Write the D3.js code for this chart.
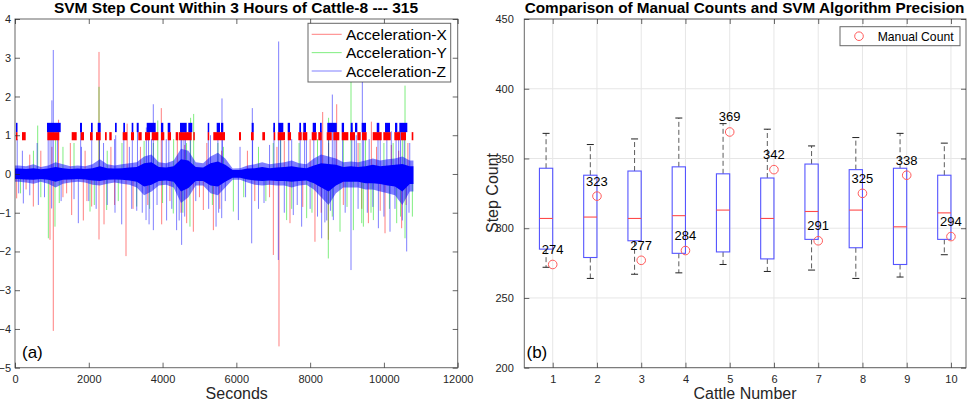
<!DOCTYPE html>
<html><head><meta charset="utf-8">
<script src="https://cdn.jsdelivr.net/npm/d3@7"></script>
<style>body{margin:0;background:#fff}svg{display:block}text{font-family:"Liberation Sans",Arial,Helvetica,sans-serif}</style>
</head><body><svg id="c" width="969" height="402"></svg>
<script>
// ---------- Panel (a) data ----------
const xTicksA = [0, 2000, 4000, 6000, 8000, 10000, 12000];
const yTicksA = [-5, -4, -3, -2, -1, 0, 1, 2, 3, 4];
const seriesNames = ["Acceleration-X", "Acceleration-Y", "Acceleration-Z"];
// dense core of the signal, per 200 s bin (start second): fringe and solid parts
const coreT = [0,200,400,600,800,1000,1200,1400,1600,1800,2000,2200,2400,2600,2800,3000,3200,3400,3600,3800,4000,4200,4400,4600,4800,5000,5200,5400,5600,5800,6000,6200,6400,6600,6800,7000,7200,7400,7600,7800,8000,8200,8400,8600,8800,9000,9200,9400,9600,9800,10000,10200,10400,10600];
const fringeUp = [0.22,0.2,0.25,0.18,0.22,0.3,0.25,0.2,0.22,0.2,0.25,0.38,0.25,0.22,0.25,0.28,0.3,0.45,0.5,0.3,0.28,0.35,0.65,0.6,0.3,0.28,0.45,0.55,0.4,0.14,0.15,0.22,0.25,0.3,0.25,0.28,0.3,0.35,0.28,0.25,0.4,0.5,0.45,0.4,0.3,0.32,0.3,0.35,0.4,0.35,0.38,0.4,0.45,0.35];
const fringeDown = [-0.2,-0.22,-0.25,-0.2,-0.25,-0.35,-0.25,-0.22,-0.2,-0.22,-0.28,-0.3,-0.25,-0.22,-0.25,-0.28,-0.35,-0.55,-0.45,-0.3,-0.28,-0.35,-0.75,-0.6,-0.3,-0.3,-0.5,-0.55,-0.35,-0.15,-0.15,-0.22,-0.28,-0.3,-0.28,-0.3,-0.3,-0.35,-0.3,-0.28,-0.4,-0.6,-0.8,-0.5,-0.35,-0.35,-0.35,-0.4,-0.4,-0.45,-0.5,-0.55,-0.8,-0.45];
const solidUp = [0.14,0.13,0.15,0.12,0.14,0.18,0.15,0.13,0.14,0.13,0.15,0.2,0.15,0.14,0.15,0.17,0.18,0.28,0.3,0.18,0.17,0.2,0.38,0.35,0.18,0.17,0.28,0.32,0.24,0.1,0.1,0.14,0.15,0.18,0.15,0.17,0.18,0.2,0.17,0.15,0.22,0.28,0.26,0.24,0.18,0.2,0.18,0.2,0.24,0.2,0.22,0.24,0.26,0.2];
const solidDown = [-0.13,-0.14,-0.15,-0.13,-0.15,-0.2,-0.15,-0.14,-0.13,-0.14,-0.17,-0.18,-0.15,-0.14,-0.15,-0.17,-0.2,-0.32,-0.28,-0.18,-0.17,-0.2,-0.45,-0.36,-0.18,-0.18,-0.3,-0.32,-0.2,-0.1,-0.1,-0.14,-0.17,-0.18,-0.17,-0.18,-0.18,-0.2,-0.18,-0.17,-0.24,-0.35,-0.45,-0.3,-0.2,-0.2,-0.2,-0.24,-0.24,-0.26,-0.3,-0.32,-0.45,-0.26];
// spikes [second, value]
const spikesX = [[2277,3.15],[3966,1.7],[8340,1.6],[8720,1.8],[1180,1.4],[3040,1.3],[9660,1.35],[700,0.6],[1500,0.8],[2600,0.7],[4400,0.9],[5200,0.8],[6300,0.6],[7300,0.85],[8000,0.9],[9300,0.8],[10200,0.75],[10650,0.8],
  [400,0.5],[1000,0.7],[1900,0.6],[3400,0.7],[4600,0.75],[5600,0.6],[7100,0.7],[8500,0.8],[9800,0.7],[10400,0.6],
  [45,-0.63],[497,-0.84],[949,-1.7],[1038,-4.05],[1400,-0.5],[1536,-1.06],[1852,-1.2],[2078,-0.84],[2277,-1.69],[2413,-1.3],[3009,-2.12],[3976,-1.3],[4653,-1.27],[4834,-1.49],[5105,-0.93],[5377,-1.45],[7003,-2.09],[7156,-4.45],[7454,-1.27],[8131,-1.75],[8493,-1.7],[9579,-1.27],[10030,-1.53],[10481,-1.4],
  [300,-0.4],[1300,-0.6],[1950,-0.7],[2700,-0.8],[3200,-0.9],[3600,-0.8],[4200,-0.7],[4500,-1.0],[5000,-0.6],[5550,-0.9],[6500,-0.7],[6900,-0.6],[7800,-0.85],[8300,-1.0],[8900,-0.8],[9400,-0.9],[9900,-0.95],[10600,-0.8]];
const spikesY = [[2277,2.25],[9108,2.5],[10572,2.28],[615,1.25],[4843,1.55],[4760,1.45],[8500,1.45],[3870,1.38],[1100,0.9],[1600,0.8],[2900,0.8],[3500,0.85],[4300,0.9],[5500,0.8],[6600,0.7],[7200,0.9],[7700,0.8],[8900,1.0],[9500,0.9],[10000,0.8],[10500,0.9],
  [500,0.6],[1300,0.7],[2500,0.6],[3750,0.8],[4650,0.8],[5650,0.7],[7000,0.8],[8200,0.9],[9350,0.8],[10250,0.8],
  [904,-1.66],[1084,-1.36],[2033,-0.97],[2485,-0.93],[3299,-0.84],[4291,-1.02],[4743,-1.36],[5919,-0.97],[7363,-1.19],[7906,-1.14],[8493,-2.18],[8810,-1.49],[9172,-1.45],[9398,-1.27],[9443,-1.36],[9714,-1.19],[10346,-1.27],[10572,-1.66],[10771,-1.1],
  [150,-0.5],[700,-0.6],[1200,-0.75],[2150,-0.8],[2800,-0.7],[3650,-0.9],[4000,-0.75],[4550,-1.0],[5350,-0.8],[6200,-0.6],[6800,-0.7],[7500,-0.9],[8050,-1.0],[8600,-1.1],[9000,-0.85],[9650,-1.0],[10150,-0.9],[10450,-1.1]];
const spikesZ = [[1038,3.2],[1000,1.9],[5611,1.95],[3749,1.8],[6433,1.7],[7147,3.42],[8602,2.05],[9415,2.6],[2700,0.9],[3560,1.2],[4500,1.3],[4620,1.1],[8700,1.3],[10400,1.1],[9900,1.0],[200,0.6],[600,0.8],[1800,0.7],[2400,0.8],[3100,0.7],[4100,0.9],[5300,1.0],[6100,0.7],[6900,0.75],[7500,0.9],[7900,1.0],[8300,1.1],[9200,0.9],[9600,0.9],[10200,1.1],[10700,0.8],
  [60,0.9],[900,1.3],[950,1.1],[1150,1.0],[1780,1.1],[2080,1.0],[2290,1.2],[2730,1.0],[2950,1.1],[3180,1.0],[3320,1.1],[3620,1.3],[3700,0.9],[3990,1.1],[4170,1.2],[4520,1.25],[4580,0.9],[4750,1.2],[5240,1.1],[5500,1.2],[5620,1.0],[6440,1.1],[7020,1.2],[7200,1.3],[7420,1.1],[7730,1.2],[7850,1.0],[8100,1.2],[8290,1.1],[8500,1.3],[8650,1.2],[8880,1.1],[9130,1.2],[9250,1.0],[9450,1.3],[9840,1.1],[10080,1.2],[10330,1.1],[10450,1.3],[10550,1.2],
  [226,-0.76],[633,-0.8],[993,-0.89],[1717,-1.27],[2711,-1.0],[2892,-1.3],[3163,-0.9],[3552,-1.19],[3634,-1.3],[3750,-1.45],[4110,-1.2],[4381,-1.45],[4517,-1.83],[5450,-1.36],[5603,-1.14],[6055,-1.19],[6416,-1.79],[7138,-2.22],[7544,-1.06],[7770,-1.36],[8312,-1.66],[8629,-1.19],[9108,-2.48],[9850,-1.4],[10165,-1.49],[10617,-2.0],
  [100,-0.5],[400,-0.55],[800,-0.6],[1250,-0.7],[1600,-0.65],[2000,-0.7],[2200,-0.9],[2500,-0.8],[3300,-0.95],[3450,-1.0],[3850,-0.8],[4250,-0.9],[4450,-1.2],[4600,-1.1],[4900,-0.7],[5250,-0.9],[5520,-1.0],[5700,-0.7],[6250,-0.6],[6600,-0.9],[6750,-0.75],[7300,-1.0],[7650,-0.8],[8000,-0.9],[8200,-1.1],[8400,-1.25],[8450,-1.2],[8550,-0.95],[8950,-1.0],[9300,-0.9],[9550,-1.0],[9700,-0.85],[10000,-1.1],[10300,-0.9],[10500,-1.2],[10680,-1.0]];
// detected step marks [startSec, endSec]
const marksRed = [[27,62],[190,290],[876,1201],[1537,1672],[1781,1870],[2033,2106],[2196,2323],[2440,2486],[2556,2621],[2919,3044],[3144,3226],[3342,3434],[3524,3660],[3706,3884],[3958,4047],[4139,4229],[4356,4427],[4446,4790],[4833,4860],[5224,5259],[5375,5692],[6072,6126],[6397,6471],[6704,6777],[7013,7048],[7121,7319],[7392,7482],[7680,7772],[7799,7923],[8043,8178],[8221,8314],[8449,8585],[8628,8791],[8856,9035],[9081,9216],[9279,9371],[9406,9533],[9696,9940],[9984,10184],[10282,10436],[10455,10599],[10753,10797]];
const marksBlue = [[27,62],[867,1239],[1762,1816],[2060,2106],[2242,2323],[2711,2757],[2936,2982],[3163,3207],[3299,3353],[3570,3814],[3958,4020],[4139,4210],[4473,4654],[4698,4806],[5224,5259],[5467,5557],[5584,5646],[6416,6471],[7002,7048],[7137,7273],[7392,7455],[7707,7753],[7815,7888],[8070,8159],[8268,8314],[8466,8720],[8856,8919],[9100,9154],[9216,9279],[9398,9515],[9805,9875],[10030,10165],[10301,10363],[10418,10634]];

// ---------- Panel (b) data ----------
const cattle = [1,2,3,4,5,6,7,8,9,10];
const yTicksB = [200,250,300,350,400,450];
const q3 = [343,338,341,344,339,336,346,342,343,338];
const med = [307,308,307,309,313,307,312,313,301,311];
const q1 = [285,279,291,282,283,278,292,286,274,292];
const whiskHi = [368,360,364,379,375,371,359,365,368,361];
const whiskLo = [272,264,267,268,274,269,270,264,265,281];
const manual = [274,323,277,284,369,342,291,325,338,294];

const svg = d3.select("#c");
const axisCol = "#262626";
const colX = "#ff0000", colY = "#00dd00", colZ = "#0000ff";

// ================= Panel (a) =================
const xA = d3.scaleLinear([0,12000],[15,457.7]);
const yA = d3.scaleLinear([-5,4],[367.7,19]);
const gA = svg.append("g");
gA.append("defs").append("clipPath").attr("id","clipA").append("rect")
  .attr("x",15).attr("y",19).attr("width",442.7).attr("height",348.7);
const plotA = gA.append("g").attr("clip-path","url(#clipA)");

function drawSpikes(data, col, op){
  plotA.append("g").selectAll("line").data(data).join("line")
    .attr("x1",d=>xA(d[0])).attr("x2",d=>xA(d[0]))
    .attr("y1",yA(0)).attr("y2",d=>yA(d[1]))
    .attr("stroke",col).attr("stroke-opacity",op).attr("stroke-width",1);
}
drawSpikes(spikesX,colX,0.5);
drawSpikes(spikesY,colY,0.5);
drawSpikes(spikesZ,colZ,0.5);

function coreArea(up, down){
  const pts = coreT.map((t,i)=>({t:t+100,u:up[i],d:down[i]}));
  return [{t:0,u:up[0],d:down[0]}].concat(pts).concat([{t:10800,u:up[up.length-1],d:down[down.length-1]}]);
}
const areaGen = d3.area().x(d=>xA(d.t)).y0(d=>yA(d.d)).y1(d=>yA(d.u));
plotA.append("path").datum(coreArea(fringeUp,fringeDown)).attr("d",areaGen)
  .attr("fill","#0000ff").attr("fill-opacity",0.5);
plotA.append("path").datum(coreArea(solidUp,solidDown)).attr("d",areaGen)
  .attr("fill","#0000ff");

// step marks
plotA.append("g").selectAll("rect").data(marksRed).join("rect")
  .attr("x",d=>xA(d[0])).attr("width",d=>Math.max(1.5,xA(d[1])-xA(d[0])))
  .attr("y",yA(1.08)).attr("height",yA(0.87)-yA(1.08)).attr("fill","#ff0000");
plotA.append("g").selectAll("rect").data(marksBlue).join("rect")
  .attr("x",d=>xA(d[0])).attr("width",d=>Math.max(1.5,xA(d[1])-xA(d[0])))
  .attr("y",yA(1.32)).attr("height",yA(1.08)-yA(1.32)).attr("fill","#0000ff");

// axes (a)
function boxAxes(g, x0, x1, y0, y1){
  g.append("rect").attr("x",x0).attr("y",y0).attr("width",x1-x0).attr("height",y1-y0)
    .attr("fill","none").attr("stroke",axisCol).attr("stroke-opacity",0.7).attr("stroke-width",1);
}
const axA = gA.append("g");
axA.append("g").attr("transform","translate(0,367.7)")
  .call(d3.axisBottom(xA).tickValues(xTicksA).tickSize(-5).tickPadding(8).tickFormat(d3.format("d")));
axA.append("g").attr("transform","translate(0,19)")
  .call(d3.axisTop(xA).tickValues(xTicksA).tickSize(-5).tickFormat(""));
axA.append("g").attr("transform","translate(15,0)")
  .call(d3.axisLeft(yA).tickValues(yTicksA).tickSize(-5).tickPadding(4).tickFormat(d3.format("d")));
axA.append("g").attr("transform","translate(457.7,0)")
  .call(d3.axisRight(yA).tickValues(yTicksA).tickSize(-5).tickFormat(""));
axA.selectAll(".domain").remove();
axA.selectAll(".tick line").attr("stroke",axisCol).attr("stroke-opacity",0.7);
axA.selectAll("text").attr("font-size",11).attr("fill",axisCol).attr("font-family","Liberation Sans, Arial, sans-serif");
boxAxes(gA,15,457.7,19,367.7);

gA.append("text").attr("x",236).attr("y",13).attr("text-anchor","middle")
  .attr("font-size",15.5).attr("font-weight","bold").attr("fill","#000")
  .text("SVM Step Count Within 3 Hours of Cattle-8 --- 315");
gA.append("text").attr("x",236.7).attr("y",399).attr("text-anchor","middle")
  .attr("font-size",16).attr("fill",axisCol).text("Seconds");
gA.append("text").attr("x",22).attr("y",358).attr("font-size",17).attr("fill","#000").text("(a)");

// legend (a)
const legA = gA.append("g");
legA.append("rect").attr("x",308).attr("y",23.3).attr("width",142.7).attr("height",58.7)
  .attr("fill","#fff").attr("stroke",axisCol).attr("stroke-opacity",0.7).attr("stroke-width",1);
[colX,colY,colZ].forEach((c,i)=>{
  const yy = 34.3 + i*18.35;
  legA.append("line").attr("x1",311.7).attr("x2",341.7).attr("y1",yy).attr("y2",yy)
    .attr("stroke",c).attr("stroke-opacity",0.5).attr("stroke-width",1);
  legA.append("text").attr("x",346).attr("y",yy+5.5).attr("font-size",15.5).attr("fill","#000").text(seriesNames[i]);
});

// ================= Panel (b) =================
const xB = d3.scaleLinear([0.358,10.34],[524.3,966]);
const yB = d3.scaleLinear([200,450],[367.7,19]);
const gB = svg.append("g");
gB.append("g").selectAll("line").data(cattle).join("line")
  .attr("x1",d=>xB(d)).attr("x2",d=>xB(d)).attr("y1",19).attr("y2",367.7)
  .attr("stroke","#e6e6e6").attr("stroke-width",1);
gB.append("g").selectAll("line").data(yTicksB).join("line")
  .attr("y1",d=>yB(d)).attr("y2",d=>yB(d)).attr("x1",524.3).attr("x2",966)
  .attr("stroke","#e6e6e6").attr("stroke-width",1);

const axB = gB.append("g");
axB.append("g").attr("transform","translate(0,367.7)")
  .call(d3.axisBottom(xB).tickValues(cattle).tickSize(-5).tickPadding(8).tickFormat(d3.format("d")));
axB.append("g").attr("transform","translate(0,19)")
  .call(d3.axisTop(xB).tickValues(cattle).tickSize(-5).tickFormat(""));
axB.append("g").attr("transform","translate(524.3,0)")
  .call(d3.axisLeft(yB).tickValues(yTicksB).tickSize(-5).tickPadding(10.5).tickFormat(d3.format("d")));
axB.append("g").attr("transform","translate(966,0)")
  .call(d3.axisRight(yB).tickValues(yTicksB).tickSize(-5).tickFormat(""));
axB.selectAll(".domain").remove();
axB.selectAll(".tick line").attr("stroke",axisCol).attr("stroke-opacity",0.7);
axB.selectAll("text").attr("font-size",11).attr("fill",axisCol).attr("font-family","Liberation Sans, Arial, sans-serif");

const boxes = gB.append("g");
cattle.forEach((c,i)=>{
  const xl = xB(c-0.3), xr = xB(c), xm = xB(c-0.15);
  boxes.append("line").attr("x1",xm).attr("x2",xm).attr("y1",yB(q3[i])).attr("y2",yB(whiskHi[i]))
    .attr("stroke","#333").attr("stroke-width",1).attr("stroke-dasharray","5,3").attr("stroke-opacity",0.8);
  boxes.append("line").attr("x1",xm).attr("x2",xm).attr("y1",yB(q1[i])).attr("y2",yB(whiskLo[i]))
    .attr("stroke","#333").attr("stroke-width",1).attr("stroke-dasharray","5,3").attr("stroke-opacity",0.8);
  boxes.append("line").attr("x1",xm-3.5).attr("x2",xm+3.5).attr("y1",yB(whiskHi[i])).attr("y2",yB(whiskHi[i]))
    .attr("stroke","#222").attr("stroke-width",1);
  boxes.append("line").attr("x1",xm-3.5).attr("x2",xm+3.5).attr("y1",yB(whiskLo[i])).attr("y2",yB(whiskLo[i]))
    .attr("stroke","#222").attr("stroke-width",1);
  boxes.append("rect").attr("x",xl).attr("y",yB(q3[i])).attr("width",xr-xl).attr("height",yB(q1[i])-yB(q3[i]))
    .attr("fill","none").attr("stroke","#5555ff").attr("stroke-width",1.1);
  boxes.append("line").attr("x1",xl).attr("x2",xr).attr("y1",yB(med[i])).attr("y2",yB(med[i]))
    .attr("stroke","#ff4a4a").attr("stroke-width",1.1);
});
gB.append("g").selectAll("circle").data(cattle).join("circle")
  .attr("cx",d=>xB(d)).attr("cy",(d,i)=>yB(manual[i])).attr("r",4.3)
  .attr("fill","none").attr("stroke","#ff5a5a").attr("stroke-width",1);
gB.append("g").selectAll("text").data(cattle).join("text")
  .attr("x",d=>xB(d)).attr("y",(d,i)=>yB(manual[i])-10.5).attr("text-anchor","middle")
  .attr("font-size",13).attr("fill","#000").text((d,i)=>manual[i]);

boxAxes(gB,524.3,966,19,367.7);

gB.append("text").attr("x",744.5).attr("y",13).attr("text-anchor","middle")
  .attr("font-size",15.3).attr("font-weight","bold").attr("fill","#000")
  .text("Comparison of Manual Counts and SVM Algorithm Precision");
gB.append("text").attr("x",745).attr("y",399).attr("text-anchor","middle")
  .attr("font-size",16).attr("fill",axisCol).text("Cattle Number");
gB.append("text").attr("transform","translate(497.5,193) rotate(-90)").attr("text-anchor","middle")
  .attr("font-size",16).attr("fill",axisCol).text("Step Count");
gB.append("text").attr("x",526.5).attr("y",358).attr("font-size",17).attr("fill","#000").text("(b)");

const legB = gB.append("g");
legB.append("rect").attr("x",840).attr("y",26.7).attr("width",120).attr("height",19)
  .attr("fill","#fff").attr("stroke",axisCol).attr("stroke-opacity",0.7).attr("stroke-width",1);
legB.append("circle").attr("cx",859).attr("cy",36.2).attr("r",4.3).attr("fill","none").attr("stroke","#ff5a5a");
legB.append("text").attr("x",877.7).attr("y",40.5).attr("font-size",12.2).attr("fill","#000").text("Manual Count");
</script></body></html>
